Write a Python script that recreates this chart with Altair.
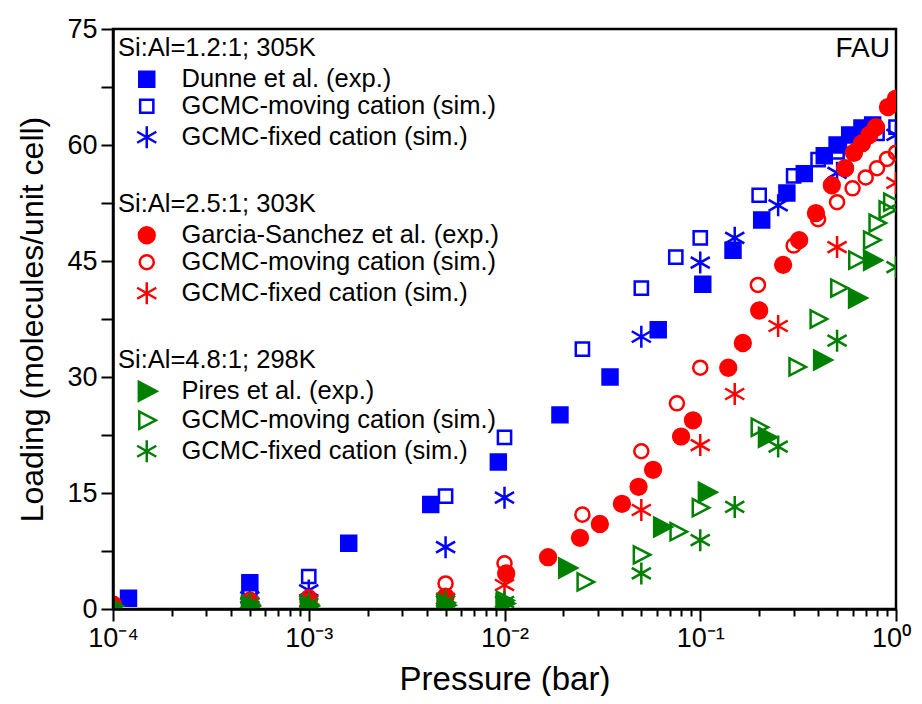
import altair as alt
import pandas as pd

# ---------------- data ----------------
groups = ["Si:Al=1.2:1; 305K", "Si:Al=2.5:1; 303K", "Si:Al=4.8:1; 298K"]
colors = ["#0000FF", "#FF0000", "#008000"]

exp_names = ["Dunne et al. (exp.)", "Garcia-Sanchez et al. (exp.)", "Pires et al. (exp.)"]
mov_name = "GCMC-moving cation (sim.)"
fix_name = "GCMC-fixed cation (sim.)"

# Si:Al = 1.2 (blue)
dunne_exp_p = [1.2e-4, 5e-4, 1.6e-3, 4.2e-3, 9.3e-3, 0.0192, 0.0346, 0.061, 0.103, 0.147, 0.206, 0.277, 0.34, 0.43, 0.5, 0.58, 0.67, 0.76]
dunne_exp_q = [1.4, 3.4, 8.5, 13.5, 19.0, 25.1, 30.0, 36.1, 42.0, 46.4, 50.3, 53.8, 56.3, 58.6, 60.0, 61.3, 62.2, 62.6]
dunne_mov_p = [5e-4, 1e-3, 5e-3, 1e-2, 0.025, 0.05, 0.075, 0.1, 0.2, 0.3, 0.4, 0.5, 0.6, 0.8, 1.0]
dunne_mov_q = [2.1, 4.2, 14.6, 22.2, 33.6, 41.5, 45.5, 48.0, 53.5, 56.0, 58.1, 59.1, 60.3, 61.5, 62.3]
dunne_fix_p = [5e-4, 1e-3, 5e-3, 1e-2, 0.05, 0.1, 0.15, 0.25, 0.5, 1.0]
dunne_fix_q = [1.5, 2.4, 8.0, 14.4, 35.2, 44.8, 48.0, 52.2, 56.4, 61.3]

# Si:Al = 2.5 (red)
garcia_exp_p = [1e-4, 5e-4, 1e-3, 5e-3, 0.0102, 0.0167, 0.0243, 0.0307, 0.0398, 0.0484, 0.0574, 0.0798, 0.0918, 0.139, 0.165, 0.2, 0.265, 0.32, 0.39, 0.47, 0.55, 0.61, 0.67, 0.73, 0.79, 0.91, 1.0]
garcia_exp_q = [0.6, 0.8, 1.0, 1.6, 4.6, 6.7, 9.2, 11.0, 13.6, 15.8, 18.0, 22.3, 24.4, 31.2, 34.4, 38.6, 44.5, 47.7, 51.2, 54.8, 57.0, 59.0, 60.2, 61.3, 62.3, 64.9, 66.0]
garcia_mov_p = [5e-4, 1e-3, 5e-3, 1e-2, 0.025, 0.05, 0.076, 0.1, 0.197, 0.3, 0.4, 0.5, 0.6, 0.7, 0.8, 0.9, 1.0]
garcia_mov_q = [1.2, 1.5, 3.3, 5.9, 12.2, 20.4, 26.6, 31.2, 41.9, 47.0, 50.4, 52.6, 54.4, 55.8, 57.0, 58.2, 59.0]
garcia_fix_p = [5e-4, 1e-3, 5e-3, 1e-2, 0.05, 0.1, 0.15, 0.25, 0.5, 1.0]
garcia_fix_q = [0.8, 1.0, 1.3, 3.1, 12.8, 21.2, 27.8, 36.6, 46.8, 55.1]

# Si:Al = 4.8 (green)
pires_exp_p = [1e-4, 5e-4, 1e-3, 5e-3, 1e-2, 0.0209, 0.0638, 0.108, 0.219, 0.419, 0.632, 0.754]
pires_exp_q = [0.4, 0.4, 0.4, 0.5, 0.7, 5.3, 10.6, 15.1, 22.2, 32.2, 40.2, 45.1]
pires_mov_p = [5e-4, 1e-3, 5e-3, 1e-2, 0.0258, 0.05, 0.077, 0.1, 0.2, 0.312, 0.4, 0.51, 0.63, 0.75, 0.8, 0.9, 0.95]
pires_mov_q = [0.6, 0.6, 0.8, 1.1, 3.5, 7.0, 10.0, 13.1, 23.5, 31.3, 37.5, 41.5, 45.1, 47.7, 49.9, 51.6, 52.6]
pires_fix_p = [5e-4, 1e-3, 5e-3, 1e-2, 0.05, 0.1, 0.15, 0.25, 0.5, 1.0]
pires_fix_q = [0.7, 0.7, 1.0, 0.9, 4.6, 8.9, 13.2, 21.0, 34.7, 44.2]

x_decades = [1e-4, 1e-3, 1e-2, 1e-1, 1.0]
y_ticks = [0, 7.5, 15, 22.5, 30, 37.5, 45, 52.5, 60, 67.5, 75]

# ---------------- styles ----------------
FONT = "Liberation Sans"
SIZE = 484  # all custom paths are drawn in the [-1, 1] box
shape_paths = {
    "square_f": "M-0.68,-0.68H0.68V0.68H-0.68Z",
    "square_o": "M-0.6,-0.6H0.6V0.6H-0.6Z",
    "circle_f": "M0.72,0A0.72,0.72 0 1,1 -0.72,0A0.72,0.72 0 1,1 0.72,0Z",
    "circle_o": "M0.64,0A0.64,0.64 0 1,1 -0.64,0A0.64,0.64 0 1,1 0.64,0Z",
    "tri_f": "M-0.72,-0.85L0.9,0L-0.72,0.85Z",
    "tri_o": "M-0.68,-0.78L0.82,0L-0.68,0.78Z",
    "star": "M0,-1V1M-0.87,-0.5L0.87,0.5M-0.87,0.5L0.87,-0.5",
}
group_shapes = [
    [shape_paths["square_f"], shape_paths["square_o"], shape_paths["star"]],
    [shape_paths["circle_f"], shape_paths["circle_o"], shape_paths["star"]],
    [shape_paths["tri_f"], shape_paths["tri_o"], shape_paths["star"]],
]
legend_y = [7, 163, 319]

series_data = [
    [(dunne_exp_p, dunne_exp_q), (dunne_mov_p, dunne_mov_q), (dunne_fix_p, dunne_fix_q)],
    [(garcia_exp_p, garcia_exp_q), (garcia_mov_p, garcia_mov_q), (garcia_fix_p, garcia_fix_q)],
    [(pires_exp_p, pires_exp_q), (pires_mov_p, pires_mov_q), (pires_fix_p, pires_fix_q)],
]

major_test = "abs(log(datum.value)/LN10 - round(log(datum.value)/LN10)) < 0.01"
x_values = []
for d in x_decades[:-1]:
    for k in range(1, 10):
        x_values.append(d * k)
x_values.append(1.0)

x_scale = alt.Scale(type="log", domain=[1e-4, 1], nice=False)
y_scale = alt.Scale(domain=[0, 75], nice=False)

x_axis = alt.Axis(
    values=x_values,
    labelExpr=f"{major_test} ? ['10\u207b\u2074','10\u207b\u00b3','10\u207b\u00b2','10\u207b\u00b9','10\u2070'][round(log(datum.value)/LN10)+4] : ''",
    tickSize={"condition": {"test": "!(" + major_test + ")", "value": 7}, "value": 12},
    labelOffset={"condition": {"test": "datum.value > 0.99", "value": -5}, "value": 0},
    labelFont=FONT, labelFontSize=27, labelColor="black", labelPadding=4, labelFlush=False,
    labelOverlap=False, grid=False, zindex=1,
    title="Pressure (bar)", titleFont=FONT, titleFontSize=33, titleFontWeight="normal",
    titleColor="black", titlePadding=12,
)
y_axis = alt.Axis(
    values=y_ticks,
    labelExpr="datum.value % 15 == 0 ? datum.label : ''",
    labelFont=FONT, labelFontSize=27, labelColor="black", labelPadding=4,
    labelOverlap=False, grid=False, zindex=1,
    title="Loading (molecules/unit cell)", titleFont=FONT, titleFontSize=32,
    titleFontWeight="normal", titleColor="black", titlePadding=17,
)

layers = []
for gi in range(3):
    names = [exp_names[gi], mov_name, fix_name]
    rows = []
    for si in range(3):
        ps, qs = series_data[gi][si]
        for p, q in zip(ps, qs):
            rows.append({"p": p, "q": q, "series": names[si]})
    df = pd.DataFrame(rows)
    c = colors[gi]
    leg = alt.Legend(
        orient="none", legendX=5, legendY=legend_y[gi], padding=0,
        title=groups[gi], titleFont=FONT, titleFontSize=25.5, titleFontWeight="normal",
        titleColor="black", titlePadding=5, titleAnchor="start", titleLimit=0,
        labelFont=FONT, labelFontSize=25.5, labelColor="black", labelOffset=22, labelLimit=0,
        symbolSize=SIZE, symbolStrokeWidth=2.5, symbolOffset=16, rowPadding=0,
    )
    layer = alt.Chart(df).mark_point(opacity=1, strokeWidth=2.5, size=SIZE, clip=True).encode(
        x=alt.X("p:Q", scale=x_scale, axis=x_axis),
        y=alt.Y("q:Q", scale=y_scale, axis=y_axis),
        shape=alt.Shape("series:N", scale=alt.Scale(domain=names, range=group_shapes[gi]), legend=leg),
        fill=alt.Fill("series:N", scale=alt.Scale(domain=names, range=[c, "transparent", "transparent"]), legend=leg),
        stroke=alt.Stroke("series:N", scale=alt.Scale(domain=names, range=[c, c, c]), legend=leg),
    )
    layers.append(layer)

fau = alt.Chart(pd.DataFrame({"t": ["FAU"]})).mark_text(
    font=FONT, fontSize=28, align="right", baseline="middle", color="black"
).encode(x=alt.value(777), y=alt.value(20), text="t:N")

chart = alt.layer(*layers, fau).resolve_scale(
    shape="independent", fill="independent", stroke="independent"
).properties(
    width=783, height=580,
    padding={"left": 105, "top": 21, "right": 18, "bottom": 87},
    autosize="none",
).configure_view(stroke="black", strokeWidth=2.5).configure_axis(
    ticks=True, tickSize=12, tickWidth=2, tickColor="#000000", tickOpacity=1,
    domainColor="#000000", domainWidth=2.5,
)

chart.save("out.html", embed_options={"renderer": "svg", "actions": False})
